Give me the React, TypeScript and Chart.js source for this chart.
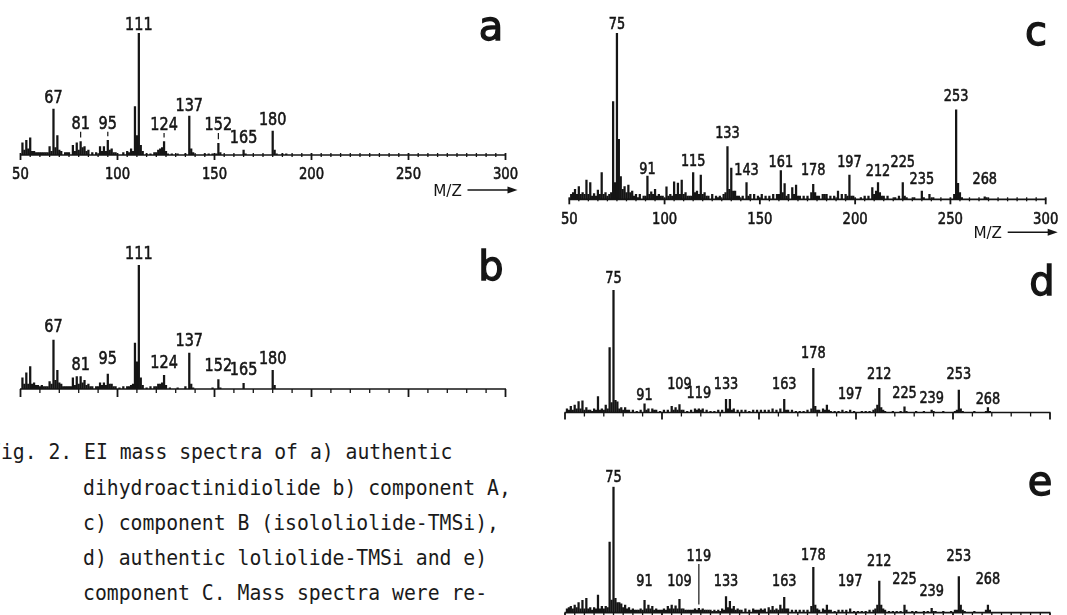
import React, { useEffect, useRef } from "react";
import { Chart, registerables } from "chart.js";

Chart.register(...registerables);

const INK = "#151515";
const NUM_FONT = '"DejaVu Sans", "Liberation Sans", sans-serif';

// x axis
const AXIS_MIN = 50;
const AXIS_MAX = 300;
const TICK_LABELS = [50, 100, 150, 200, 250, 300];

// ---------- panel a: authentic dihydroactinidiolide ----------
const aMz = [51, 52, 53, 54, 55, 56, 57, 58, 59, 60, 61, 62, 63, 64, 65, 66, 67, 68, 69, 70, 71, 73, 74, 75, 77, 78, 79, 80, 81, 82, 83, 84, 85, 87, 89, 91, 92, 93, 94, 95, 96, 97, 98, 99, 103, 105, 106, 107, 108, 109, 110, 111, 112, 113, 115, 117, 119, 120, 121, 122, 123, 124, 125, 126, 128, 131, 135, 137, 138, 139, 145, 147, 149, 151, 152, 153, 165, 166, 180, 181, 182, 185, 187];
const aInt = [10, 4, 12, 5, 14, 3, 3, 2, 2, 2, 2, 2, 2, 2, 7, 3, 37.7, 6, 16, 4, 3, 2, 2, 2, 8, 3, 10, 4, 11, 6, 7, 3, 4, 2, 2, 7, 3, 7, 3, 12, 4, 5, 2, 2, 2, 3, 2, 5, 3, 39.6, 16, 100, 8, 3, 1, 1, 2, 2, 4, 5, 6, 11, 3, 1, 1, 1, 1, 32, 5, 2, 1, 1, 1, 1, 9.6, 2, 4, 1, 19.7, 4, 1, 1, 1];
const aLabelMz = [111, 67, 81, 95, 124, 137, 152, 165, 180];
const aLabelLevel = [108, 48, 27, 27, 26, 42, 26, 15, 30];
const aLeaders = [81, 95, 124, 152];

// ---------- panel b: component A ----------
const bMz = [51, 52, 53, 54, 55, 56, 57, 58, 59, 60, 61, 62, 63, 64, 65, 66, 67, 68, 69, 70, 71, 72, 73, 74, 75, 76, 77, 78, 79, 80, 81, 82, 83, 84, 85, 86, 87, 89, 90, 91, 92, 93, 94, 95, 96, 97, 98, 99, 101, 103, 105, 106, 107, 108, 109, 110, 111, 112, 113, 115, 117, 119, 120, 121, 122, 123, 124, 125, 127, 131, 135, 137, 138, 139, 149, 152, 153, 165, 180, 181];
const bInt = [9, 4, 13, 4, 18, 4, 5, 3, 3, 2, 3, 2, 2, 2, 6, 4, 39.5, 7, 15, 5, 4, 2, 2, 2, 2, 2, 9, 3, 10, 4, 10, 5, 7, 3, 4, 2, 2, 2, 2, 5, 3, 5, 3, 12, 4, 4, 2, 2, 1, 2, 2, 2, 3, 4, 37, 22, 100, 9, 3, 1, 2, 2, 2, 4, 4, 5, 11, 3, 1, 1, 2, 29, 4, 1, 1, 7.5, 1, 4.5, 15, 3];
const bLabelMz = [111, 67, 81, 95, 124, 137, 152, 165, 180];
const bLabelLevel = [110, 51.5, 21, 26, 22, 40, 20, 17, 26];
const bLeaders: number[] = [];

// ---------- panel c: component B (isololiolide-TMSi) ----------
const cMz = [51, 52, 53, 54, 55, 56, 57, 58, 59, 60, 61, 62, 63, 64, 65, 66, 67, 68, 69, 70, 71, 72, 73, 74, 75, 76, 77, 78, 79, 80, 81, 82, 83, 84, 85, 86, 87, 89, 90, 91, 92, 93, 94, 95, 96, 97, 98, 99, 101, 102, 103, 104, 105, 106, 107, 108, 109, 110, 111, 112, 113, 114, 115, 116, 117, 118, 119, 120, 121, 122, 123, 125, 127, 128, 129, 131, 132, 133, 134, 135, 136, 137, 138, 139, 141, 143, 144, 145, 147, 149, 151, 153, 155, 157, 159, 160, 161, 162, 163, 164, 165, 167, 168, 169, 170, 171, 173, 175, 177, 178, 179, 180, 181, 183, 184, 185, 187, 189, 191, 193, 195, 196, 197, 198, 199, 203, 205, 207, 209, 210, 211, 212, 213, 214, 215, 217, 221, 223, 225, 226, 227, 231, 235, 236, 239, 241, 252, 253, 254, 255, 256, 268, 269];
const cInt = [3, 4, 6, 3, 7.6, 3, 4, 3, 11.6, 3, 10, 2, 3.5, 2, 5.5, 3, 16, 3, 4, 2, 3, 4, 58.8, 10, 100, 36, 13.6, 6, 7.6, 4, 8.6, 4, 5, 2, 3, 1, 3, 2, 2, 14, 3, 4.5, 3, 6, 2, 3, 2, 2, 7.5, 2, 3, 2, 10.5, 3, 9.8, 3, 11.6, 3, 4, 2, 2, 2, 16, 4, 5, 3, 14.5, 3, 4, 2, 2, 3, 2, 1, 2, 3, 4, 31.7, 6, 18.7, 5, 5, 2, 2, 2, 10, 2, 3, 3, 2, 3, 2, 2, 3, 3, 3, 17.2, 4, 9.5, 2, 3, 7, 3, 8.6, 2, 2, 2, 2, 4, 9, 4, 2, 2, 3, 3, 3, 2, 2, 5, 3, 3, 2, 14.6, 2, 2, 1, 2, 2, 7, 3, 5, 10, 4, 2, 2, 2, 1, 2, 10, 2, 1, 1, 5, 1, 3, 1, 3, 53.8, 9.6, 4, 1, 1.5, 1];
const cLabelMz = [75, 91, 115, 133, 143, 161, 178, 197, 212, 225, 235, 253, 268];
const cLabelLevel = [106, 18.9, 23.7, 40.7, 18.1, 23.3, 18.1, 23, 17.6, 23, 12.6, 62.8, 12.6];
const cLeaders: number[] = [];

// ---------- panel d: authentic loliolide-TMSi ----------
const dMz = [51, 52, 53, 54, 55, 56, 57, 58, 59, 60, 61, 62, 63, 64, 65, 66, 67, 68, 69, 70, 71, 72, 73, 74, 75, 76, 77, 78, 79, 80, 81, 82, 83, 85, 87, 89, 91, 92, 93, 95, 96, 97, 99, 101, 103, 105, 106, 107, 108, 109, 110, 111, 113, 115, 117, 118, 119, 120, 121, 123, 125, 127, 129, 131, 133, 134, 135, 136, 137, 139, 141, 143, 145, 147, 149, 151, 153, 155, 157, 159, 161, 163, 164, 165, 167, 169, 171, 173, 175, 177, 178, 179, 180, 181, 183, 184, 185, 186, 187, 189, 191, 193, 195, 197, 199, 203, 205, 207, 209, 210, 211, 212, 213, 214, 215, 219, 223, 225, 226, 231, 235, 239, 240, 245, 251, 252, 253, 254, 255, 261, 267, 268, 269];
const dInt = [3, 2, 5, 2, 6, 3, 9, 3, 9.6, 2, 4, 2, 2, 1, 3, 2, 13, 2, 3, 2, 6, 3, 53, 8, 100, 10, 8.8, 3, 4, 2, 4, 2, 2, 2, 1, 2, 7, 2, 3, 3, 2, 2, 1, 2, 2, 5, 2, 4, 2, 6.4, 2, 2, 1, 2, 3, 2, 3, 2, 3, 2, 1, 1, 2, 2, 10.8, 3, 10.8, 2, 3, 2, 2, 2, 1, 2, 2, 2, 2, 2, 3, 2, 3, 10.8, 2, 2, 2, 1, 1, 1, 2, 3, 36, 5, 2, 2, 3, 2, 6, 2, 1, 1, 1, 2, 1, 2, 1, 1, 1, 1, 2, 3, 6, 19.7, 4, 2, 1, 1, 1, 4.7, 1, 1, 1, 2, 1, 1, 1, 2, 18.4, 3, 1, 1, 1, 4, 1];
const dLabelMz = [75, 91, 109, 119, 133, 163, 178, 197, 212, 225, 239, 253, 268];
const dLabelLevel = [110.8, 15, 24.3, 16.9, 24.3, 24.3, 49.6, 15.9, 31.9, 16.9, 12.9, 31.9, 11.6];
const dLeaders: number[] = [];

// ---------- panel e: component C ----------
const eMz = [51, 52, 53, 54, 55, 56, 57, 58, 59, 60, 61, 62, 63, 64, 65, 66, 67, 68, 69, 70, 71, 72, 73, 74, 75, 76, 77, 78, 79, 80, 81, 82, 83, 84, 85, 86, 87, 88, 89, 90, 91, 92, 93, 94, 95, 96, 97, 98, 99, 100, 101, 102, 103, 104, 105, 106, 107, 108, 109, 110, 111, 112, 113, 114, 115, 116, 117, 118, 119, 120, 121, 122, 123, 124, 125, 126, 127, 128, 129, 130, 131, 132, 133, 134, 135, 136, 137, 138, 139, 140, 141, 143, 145, 147, 148, 149, 150, 151, 152, 153, 155, 156, 157, 158, 159, 160, 161, 162, 163, 164, 165, 167, 169, 171, 173, 175, 177, 178, 179, 180, 181, 183, 184, 185, 186, 187, 189, 191, 193, 195, 197, 199, 201, 203, 205, 207, 209, 210, 211, 212, 213, 214, 215, 217, 219, 221, 223, 225, 226, 229, 231, 235, 237, 239, 240, 241, 245, 249, 251, 252, 253, 254, 255, 256, 261, 267, 268, 269];
const eInt = [3, 4, 5, 3, 6, 4, 8, 3, 9.8, 3, 11.4, 3, 4, 2, 4, 3, 14, 3, 5, 3, 5, 4, 56, 10, 100, 11.4, 8, 8, 7, 4, 6, 3, 4, 2, 3, 2, 2, 2, 3, 2, 9.8, 3, 6, 3, 5, 2, 3, 2, 2, 2, 3, 2, 5, 3, 6, 3, 5.5, 3, 10.6, 3, 3, 2, 2, 2, 2, 2, 3, 2, 3.4, 2, 3, 2, 2, 2, 2, 1, 2, 1, 2, 1, 3, 2, 12.7, 4, 9, 3, 5, 2, 3, 2, 2, 3, 2, 3, 2, 2, 2, 3, 2, 3, 4, 2, 5, 2, 3, 2, 6, 3, 12.2, 3, 3, 2, 2, 2, 2, 2, 5, 36, 6, 3, 2, 3, 2, 6, 2, 2, 1, 2, 2, 2, 3, 1, 1, 1, 1, 2, 2, 3, 6, 25, 6, 3, 2, 1, 1, 1, 1, 6, 2, 1, 1, 1, 1, 3.4, 1, 1, 1, 1, 2, 2, 28.6, 6, 2, 1, 1, 2, 6, 2];
const eLabelMz = [75, 91, 109, 119, 133, 163, 178, 197, 212, 225, 239, 253, 268];
const eLabelLevel = [108.5, 26, 26, 45.8, 26, 26, 46.6, 26, 41.8, 27.5, 17.9, 45.8, 27.5];
const eLeaders = [119];

// caption
const CAPTION_LINES = [
  "Fig. 2. EI mass spectra of a) authentic",
  "dihydroactinidiolide b) component A,",
  "c) component B (isololiolide-TMSi),",
  "d) authentic loliolide-TMSi and e)",
  "component C. Mass spectra were re-",
];

type Panel = {
  id: string;
  letter: string;
  mz: number[];
  ints: number[];
  labelMz: number[];
  labelLevel: number[];
  leaders: number[];
  left: number;
  top: number;
  width: number;
  height: number;
  pad: { left: number; right: number; top: number; bottom: number };
  labelSize: number;
  tickLabels: boolean;
  tickLabelDy: number;
  mzCaptionDy: number;
  minorStep: number;
  majorUp: number;
  majorDown: number;
  minorUp: number;
  minorDown: number;
  letterX: number;
  letterY: number;
};

const PANELS: Panel[] = [
  {
    id: "a", letter: "a", mz: aMz, ints: aInt, labelMz: aLabelMz, labelLevel: aLabelLevel, leaders: aLeaders,
    left: 0, top: 0, width: 530, height: 230,
    pad: { left: 20.5, right: 24.5, top: 33, bottom: 75 },
    labelSize: 18.5, tickLabels: true, tickLabelDy: 18, mzCaptionDy: 35,
    minorStep: 5, majorUp: 2, majorDown: 5, minorUp: 2, minorDown: 2,
    letterX: 491, letterY: 40,
  },
  {
    id: "b", letter: "b", mz: bMz, ints: bInt, labelMz: bLabelMz, labelLevel: bLabelLevel, leaders: bLeaders,
    left: 0, top: 230, width: 530, height: 180,
    pad: { left: 20.5, right: 24.5, top: 35, bottom: 21 },
    labelSize: 18.5, tickLabels: false, tickLabelDy: 0, mzCaptionDy: 0,
    minorStep: 10, majorUp: 0, majorDown: 8, minorUp: 0, minorDown: 4,
    letterX: 491, letterY: 50,
  },
  {
    id: "c", letter: "c", mz: cMz, ints: cInt, labelMz: cLabelMz, labelLevel: cLabelLevel, leaders: cLeaders,
    left: 540, top: 0, width: 527, height: 245,
    pad: { left: 29.3, right: 21.3, top: 33, bottom: 45.7 },
    labelSize: 16.5, tickLabels: true, tickLabelDy: 19, mzCaptionDy: 33,
    minorStep: 5, majorUp: 2, majorDown: 5, minorUp: 2, minorDown: 2,
    letterX: 496, letterY: 45,
  },
  {
    id: "d", letter: "d", mz: dMz, ints: dInt, labelMz: dLabelMz, labelLevel: dLabelLevel, leaders: dLeaders,
    left: 540, top: 245, width: 527, height: 175,
    pad: { left: 25, right: 17, top: 45, bottom: 7.5 },
    labelSize: 16.5, tickLabels: false, tickLabelDy: 0, mzCaptionDy: 0,
    minorStep: 10, majorUp: 0, majorDown: 7, minorUp: 0, minorDown: 4,
    letterX: 502, letterY: 50,
  },
  {
    id: "e", letter: "e", mz: eMz, ints: eInt, labelMz: eLabelMz, labelLevel: eLabelLevel, leaders: eLeaders,
    left: 540, top: 420, width: 527, height: 195,
    pad: { left: 25, right: 17, top: 66.7, bottom: 2.3 },
    labelSize: 16.5, tickLabels: false, tickLabelDy: 0, mzCaptionDy: 0,
    minorStep: 5, majorUp: 0, majorDown: 7, minorUp: 0, minorDown: 4,
    letterX: 500, letterY: 75,
  },
];

function drawNarrow(ctx: CanvasRenderingContext2D, text: string, cx: number, cy: number, size: number, sx: number) {
  ctx.save();
  ctx.translate(cx, cy + 0.365 * size);
  ctx.scale(sx, 1);
  ctx.font = `${size}px ${NUM_FONT}`;
  ctx.textAlign = "center";
  ctx.textBaseline = "alphabetic";
  ctx.fillStyle = INK;
  ctx.strokeStyle = INK;
  ctx.lineWidth = 0.6;
  ctx.fillText(text, 0, 0);
  ctx.strokeText(text, 0, 0);
  ctx.restore();
}

function makeOverlay(p: Panel) {
  return {
    id: "spectrumOverlay_" + p.id,
    afterDraw(chart: any) {
      const ctx: CanvasRenderingContext2D = chart.ctx;
      const x = chart.scales.x;
      const y = chart.scales.y;
      const base = y.getPixelForValue(0);
      ctx.save();
      ctx.strokeStyle = INK;
      ctx.fillStyle = INK;

      // axis line
      ctx.lineWidth = 1.7;
      ctx.beginPath();
      ctx.moveTo(x.getPixelForValue(AXIS_MIN) - 0.5, base);
      ctx.lineTo(x.getPixelForValue(AXIS_MAX) + 0.5, base);
      ctx.stroke();

      // ticks
      for (let v = AXIS_MIN; v <= AXIS_MAX; v += p.minorStep) {
        const major = v % 50 === 0;
        const px = x.getPixelForValue(v);
        ctx.lineWidth = major ? 1.8 : 1.3;
        ctx.beginPath();
        ctx.moveTo(px, base - (major ? p.majorUp : p.minorUp));
        ctx.lineTo(px, base + (major ? p.majorDown : p.minorDown));
        ctx.stroke();
      }

      // tick labels
      if (p.tickLabels) {
        TICK_LABELS.forEach((v) => {
          drawNarrow(ctx, String(v), x.getPixelForValue(v), base + p.tickLabelDy, 16.5, 0.8);
        });
        // M/Z arrow caption
        const endX = x.getPixelForValue(AXIS_MAX);
        const cy = base + p.mzCaptionDy;
        ctx.save();
        ctx.translate(endX - 58, cy + 6);
        ctx.scale(0.95, 1);
        ctx.font = `16px ${NUM_FONT}`;
        ctx.textAlign = "center";
        ctx.textBaseline = "alphabetic";
        ctx.fillText("M/Z", 0, 0);
        ctx.restore();
        ctx.lineWidth = 1.6;
        ctx.beginPath();
        ctx.moveTo(endX - 38, cy);
        ctx.lineTo(endX + 4, cy);
        ctx.stroke();
        ctx.beginPath();
        ctx.moveTo(endX + 12, cy);
        ctx.lineTo(endX + 2, cy - 3.5);
        ctx.lineTo(endX + 2, cy + 3.5);
        ctx.closePath();
        ctx.fill();
      }

      // peak labels
      const cap = p.labelSize * 0.729;
      p.labelMz.forEach((m, i) => {
        const px = x.getPixelForValue(m);
        const py = y.getPixelForValue(p.labelLevel[i]);
        drawNarrow(ctx, String(m), px, py, p.labelSize, 0.78);
        if (p.leaders.includes(m)) {
          const idx = p.mz.indexOf(m);
          const peakTop = y.getPixelForValue(idx >= 0 ? p.ints[idx] : 0);
          const from = py + cap / 2 + 3;
          const to = peakTop - 4;
          if (to > from) {
            ctx.lineWidth = 1.2;
            ctx.beginPath();
            ctx.moveTo(px, from);
            ctx.lineTo(px, to);
            ctx.stroke();
          }
        }
      });

      // panel letter
      ctx.font = `40px ${NUM_FONT}`;
      ctx.textAlign = "center";
      ctx.textBaseline = "alphabetic";
      ctx.lineWidth = 1.3;
      ctx.fillText(p.letter, p.letterX, p.letterY);
      ctx.strokeText(p.letter, p.letterX, p.letterY);
      ctx.restore();
    },
  };
}

function SpectrumPanel({ p }: { p: Panel }) {
  const ref = useRef<HTMLCanvasElement>(null);
  useEffect(() => {
    if (!ref.current) return;
    const chart = new Chart(ref.current, {
      type: "bar",
      data: {
        datasets: [
          {
            data: p.mz.map((m, i) => ({ x: m, y: p.ints[i] })),
            backgroundColor: INK,
            borderWidth: 0,
            barThickness: 1.6,
          } as any,
        ],
      },
      options: {
        animation: false,
        responsive: false,
        devicePixelRatio: 1,
        layout: { padding: p.pad },
        plugins: { legend: { display: false }, tooltip: { enabled: false } },
        scales: {
          x: { type: "linear", min: AXIS_MIN, max: AXIS_MAX, offset: false, display: false },
          y: { type: "linear", min: 0, max: 100, display: false },
        },
      },
      plugins: [makeOverlay(p)],
    } as any);
    return () => chart.destroy();
  }, [p]);
  return (
    <canvas
      ref={ref}
      width={p.width}
      height={p.height}
      style={{ position: "absolute", left: p.left, top: p.top, width: p.width, height: p.height }}
    />
  );
}

const CAPTION_TOPS = [440, 476, 511, 546, 581];
const CAPTION_LEFTS = [-11.5, 82.5, 82.5, 82.5, 82.5];

export default function App() {
  return (
    <div
      style={{
        position: "absolute",
        left: 0,
        top: 0,
        width: 1067,
        height: 615,
        background: "#ffffff",
        overflow: "hidden",
      }}
    >
      {PANELS.map((p) => (
        <SpectrumPanel key={p.id} p={p} />
      ))}
      {CAPTION_LINES.map((line, i) => (
        <div
          key={i}
          style={{
            position: "absolute",
            left: CAPTION_LEFTS[i],
            top: CAPTION_TOPS[i],
            fontFamily: '"DejaVu Sans Mono", "Liberation Mono", monospace',
            fontSize: 21,
            lineHeight: "24px",
            whiteSpace: "pre",
            color: "#1a1a1a",
            transform: "scaleX(0.94)",
            transformOrigin: "left center",
          }}
        >
          {line}
        </div>
      ))}
    </div>
  );
}
